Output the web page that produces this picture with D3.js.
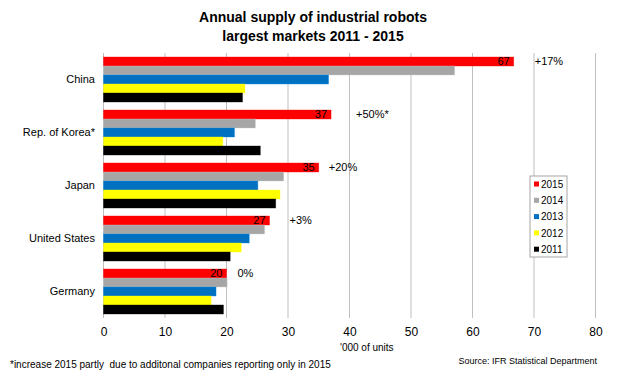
<!DOCTYPE html>
<html>
<script src="https://d3js.org/d3.v7.min.js"></script>
<style>
    body { margin: 0; background: #fff; }
    text { font-family: "Liberation Sans", Arial, sans-serif; }
    .domain { display: none; }
</style>
<body></body>
<script>
    const countries = ["China", "Rep. of Korea*", "Japan", "United States", "Germany"];
    const years = ["2015", "2014", "2013", "2012", "2011"];
    const colors = ["#ff0000", "#a6a6a6", "#0070c0", "#ffff00", "#000000"];
    // '000 of units, one array per year, in country order
    const v2015 = [66.7, 37.0, 35.0, 27.0, 20.0];
    const v2014 = [57.1, 24.7, 29.3, 26.2, 20.1];
    const v2013 = [36.6, 21.3, 25.1, 23.7, 18.3];
    const v2012 = [23.0, 19.4, 28.7, 22.4, 17.5];
    const v2011 = [22.6, 25.5, 28.0, 20.6, 19.5];
    const valueLabels = ["67", "37", "35", "27", "20"];
    const growth = ["+17%", "+50%*", "+20%", "+3%", "0%"];
    const xTicks = [0, 10, 20, 30, 40, 50, 60, 70, 80];

    const series = [v2015, v2014, v2013, v2012, v2011];
    const growthGap = [21, 25, 10, 20, 11]; // px from bar end, as placed in the original

    const width = 625, height = 373;
    const svg = d3.select("body").append("svg").attr("width", width).attr("height", height);

    const x = d3.scaleLinear().domain([0, 80]).range([103.5, 595.5]);
    const y = d3.scaleBand().domain(countries).range([53, 318]).paddingInner(0.151).paddingOuter(0.0755);
    const yy = d3.scaleBand().domain(years).range([0, y.bandwidth()]);

    // gridlines
    svg.append("g").selectAll("line")
        .data(xTicks)
        .join("line")
        .attr("x1", d => x(d)).attr("x2", d => x(d))
        .attr("y1", 53).attr("y2", 318)
        .attr("stroke", "#bfbfbf")
        .attr("stroke-width", 1);

    // bars
    const groups = svg.append("g").selectAll("g")
        .data(countries)
        .join("g")
        .attr("transform", d => `translate(0,${y(d)})`);

    groups.selectAll("rect")
        .data((c, i) => years.map((yr, j) => ({ yr, color: colors[j], v: series[j][i] })))
        .join("rect")
        .attr("x", x(0))
        .attr("y", d => yy(d.yr))
        .attr("width", d => x(d.v) - x(0))
        .attr("height", yy.bandwidth())
        .attr("fill", d => d.color)
        .attr("stroke", d => d3.color(d.color).brighter(0.6))
        .attr("stroke-opacity", 0.45)
        .attr("stroke-width", 0.8);

    // value labels inside red bars
    svg.append("g").selectAll("text")
        .data(countries)
        .join("text")
        .attr("x", (d, i) => x(v2015[i]) - 4)
        .attr("y", d => y(d) + yy("2015") + yy.bandwidth() / 2)
        .attr("dy", "0.36em")
        .attr("text-anchor", "end")
        .attr("font-size", 11)
        .text((d, i) => valueLabels[i]);

    // growth labels
    svg.append("g").selectAll("text")
        .data(countries)
        .join("text")
        .attr("x", (d, i) => x(v2015[i]) + growthGap[i])
        .attr("y", d => y(d) + yy("2015") + yy.bandwidth() / 2)
        .attr("dy", "0.36em")
        .attr("font-size", 11)
        .text((d, i) => growth[i]);

    // axes
    const yAxis = svg.append("g")
        .attr("transform", `translate(95,0)`)
        .call(d3.axisLeft(y).tickSize(0).tickPadding(0));
    yAxis.selectAll("text").attr("font-size", 11).attr("fill", "#000")
        .style("font-family", '"Liberation Sans", Arial, sans-serif');

    const xAxis = svg.append("g")
        .attr("transform", `translate(0,318)`)
        .call(d3.axisBottom(x).tickValues(xTicks).tickSize(0).tickPadding(9));
    xAxis.selectAll("text").attr("font-size", 12).attr("fill", "#000")
        .style("font-family", '"Liberation Sans", Arial, sans-serif');

    svg.append("text")
        .attr("x", 340).attr("y", 351)
        .attr("font-size", 10)
        .text("'000 of units");

    // legend
    const lg = svg.append("g").attr("transform", "translate(530,176)");
    lg.append("rect")
        .attr("width", 37).attr("height", 81)
        .attr("fill", "#fff").attr("stroke", "#a6a6a6");
    lg.selectAll("g")
        .data(years)
        .join("g")
        .attr("transform", (d, i) => `translate(0,${8 + i * 16.3})`)
        .call(g => {
            g.append("rect").attr("x", 4).attr("y", -2.5).attr("width", 5).attr("height", 5)
                .attr("fill", (d, i) => colors[i]);
            g.append("text").attr("x", 11).attr("dy", "0.36em")
                .attr("font-size", 10).text(d => d);
        });

    // titles
    svg.append("text")
        .attr("x", 313).attr("y", 22)
        .attr("text-anchor", "middle")
        .attr("font-size", 14).attr("font-weight", "bold")
        .text("Annual supply of industrial robots");
    svg.append("text")
        .attr("x", 313).attr("y", 41)
        .attr("text-anchor", "middle")
        .attr("font-size", 14).attr("font-weight", "bold")
        .text("largest markets 2011 - 2015");

    svg.append("text")
        .attr("x", 10).attr("y", 368)
        .attr("font-size", 10)
        .style("white-space", "pre")
        .text("*increase 2015 partly  due to additonal companies reporting only in 2015");
    svg.append("text")
        .attr("x", 597).attr("y", 364)
        .attr("text-anchor", "end")
        .attr("font-size", 9)
        .text("Source: IFR Statistical Department");
</script>
</html>
